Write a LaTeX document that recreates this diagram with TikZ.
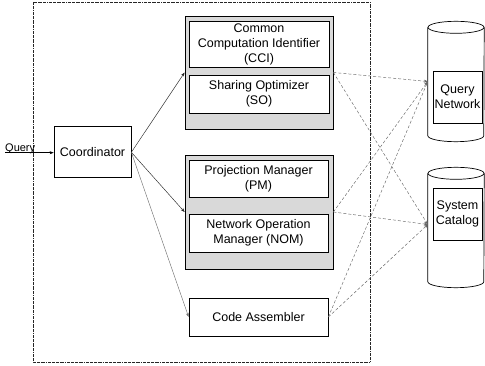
\documentclass[tikz,border=0pt]{standalone}
\usepackage{fontspec}
\setmainfont{Liberation Sans}
\usetikzlibrary{arrows.meta}
\begin{document}
\begin{tikzpicture}[x=1pt,y=-1pt,
  txt/.style={font=\fontsize{12.5}{15}\selectfont, align=center},
  box/.style={draw, line width=0.7pt, fill=white, inner sep=0pt, txt},
  group/.style={draw, line width=0.8pt, fill=black!15, inner sep=0pt},
  cylnode/.style={inner sep=0pt, minimum width=56pt, minimum height=120pt},
  solidarrow/.style={line width=0.45pt, -{Stealth[length=4pt,width=3pt]}},
  dasharrow/.style={line width=0.45pt, black!60, dash pattern=on 3pt off 2pt,
    -{Stealth[length=4pt,width=3pt]}},
]
\useasboundingbox (0,0) rectangle (485,366);

% enclosing boundary of the compiler
\draw[line width=0.45pt, black!85, dash pattern=on 1.8pt off 0.7pt on 0.6pt off 0.7pt]
  (33.3,2) rectangle (370.5,362);

% coordinator and incoming query
\node[box, minimum width=77pt, minimum height=51pt] (coord) at (92.5,152.3) {Coordinator};
\coordinate (qin) at (5,152.7);
\node[anchor=base west, inner sep=0pt, font=\fontsize{11}{13}\selectfont] (qlab)
  at ([yshift=1.2pt]qin) {Query};
\draw[solidarrow] (qin) -- (qin -| coord.west);

% first group: CCI + SO
\node[group, minimum width=148pt, minimum height=113pt] (g1) at (259,72.5) {};
\node[box, minimum width=140pt, minimum height=46pt] (cci) at (259,44)
  {Common\\Computation Identifier\\(CCI)};
\node[box, minimum width=140pt, minimum height=38pt] (so) at (259,94)
  {Sharing Optimizer\\(SO)};

% second group: PM + NOM
\node[group, minimum width=148pt, minimum height=114pt] (g2) at (259,212) {};
\node[box, minimum width=139pt, minimum height=37pt] (pm) at (258.5,178.7)
  {Projection Manager\\(PM)};
\node[box, minimum width=139pt, minimum height=38pt] (nom) at (258.5,233.2)
  {Network Operation\\Manager (NOM)};

% code assembler
\node[box, minimum width=139pt, minimum height=38pt] (ca) at (258.5,317) {Code Assembler};

% storage cylinders
\node[cylnode] (qn) at (456,81.5) {};
\node[cylnode] (sc) at (456,227.5) {};
\foreach \c in {qn,sc}{
  \draw[line width=0.7pt]
    ([yshift=-6pt]\c.north west) -- ([yshift=6pt]\c.south west)
    arc[start angle=180, end angle=360, x radius=28pt, y radius=6pt]
    -- ([yshift=-6pt]\c.north east);
  \draw[line width=0.7pt] ([yshift=-6pt]\c.north)
    ellipse[x radius=28pt, y radius=6pt];
}
\node[box, minimum width=49pt, minimum height=52pt] (qni) at (457.5,97) {Query\\Network};
\node[box, minimum width=49pt, minimum height=52pt] (sci) at (457.5,214) {System\\Catalog};

% control flow from the coordinator
\draw[solidarrow, black!85] (coord.east) -- (g1.west);
\draw[solidarrow, black!85] (coord.east) -- (g2.west);
\draw[solidarrow, black!55] (coord.east) -- (ca.west);

% access to the shared stores
\foreach \s in {g1,g2,ca}{
  \draw[dasharrow] (\s.east) -- (qn.west);
  \draw[dasharrow] (\s.east) -- ([yshift=3pt]sc.west);
}
\end{tikzpicture}
\end{document}
